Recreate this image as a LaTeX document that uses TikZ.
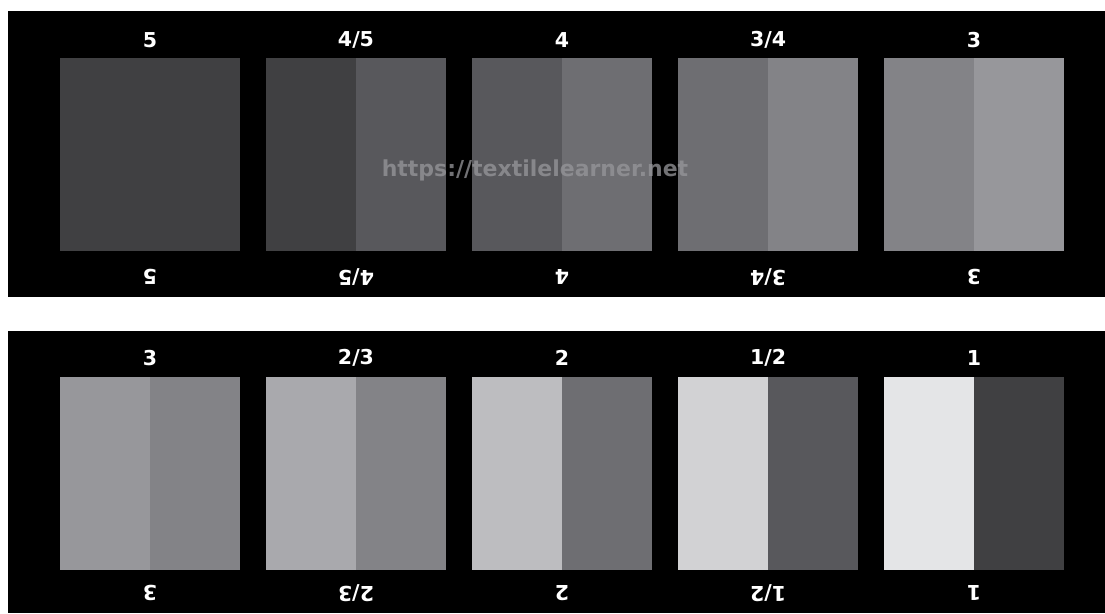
\documentclass[tikz,border=0pt]{standalone}
\usepackage{fontspec}
\setmainfont{DejaVu Sans}
\definecolor{sA}{HTML}{404042}
\definecolor{sB}{HTML}{58585C}
\definecolor{sC}{HTML}{6E6E72}
\definecolor{sD}{HTML}{838387}
\definecolor{sE}{HTML}{97979B}
\definecolor{sF}{HTML}{A9A9AD}
\definecolor{sG}{HTML}{BDBDC0}
\definecolor{sH}{HTML}{D2D2D4}
\definecolor{sI}{HTML}{E4E5E7}
\begin{document}
\begin{tikzpicture}[x=1pt, y=-1pt,
    grade/.style={text=white, font=\bfseries\fontsize{20.5}{20.5}\selectfont, inner sep=0pt}]
    \useasboundingbox[fill=white] (0,0) rectangle (1105,613);

    % --- Panel 1: grades 5 to 3 ---
    \begin{scope}
        \fill[black] (8,11) rectangle (1105,297);
        \foreach \i/\g/\cl/\cr [evaluate=\i as \x using 60+206*\i] in
            {0/5/sA/sA, 1/{4/5}/sA/sB, 2/4/sB/sC, 3/{3/4}/sC/sD, 4/3/sD/sE} {
            \fill[\cl] (\x,58) rectangle +(90,193);
            \fill[\cr] (\x+90,58) rectangle +(90,193);
            \node[grade] (up\i) at (\x+90,40) {\g};
            \node[grade, rotate=180] (dn\i) at (\x+90,277) {\g};
        }
    \end{scope}

    % --- Panel 2: grades 3 to 1 ---
    \begin{scope}
        \fill[black] (8,331) rectangle (1105,613);
        \foreach \i/\g/\cl/\cr [evaluate=\i as \x using 60+206*\i] in
            {0/3/sE/sD, 1/{2/3}/sF/sD, 2/2/sG/sC, 3/{1/2}/sH/sB, 4/1/sI/sA} {
            \fill[\cl] (\x,377) rectangle +(90,193);
            \fill[\cr] (\x+90,377) rectangle +(90,193);
            \node[grade] (upb\i) at (\x+90,358) {\g};
            \node[grade, rotate=180] (dnb\i) at (\x+90,593) {\g};
        }
    \end{scope}

    % watermark
    \node[text=sE, opacity=0.75, inner sep=0pt, font=\bfseries\fontsize{22}{22}\selectfont]
        (mark) at (535,170) {https://textilelearner.net};
\end{tikzpicture}
\end{document}
